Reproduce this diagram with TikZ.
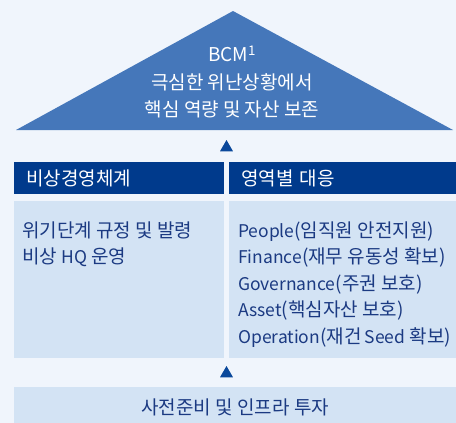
\documentclass[tikz,border=0pt]{standalone}
\usepackage{fontspec}
\setmainfont{Noto Sans CJK KR}
\newfontfamily\latinfont[Scale=0.92]{Noto Sans CJK KR}
\usetikzlibrary{shapes.geometric, positioning, calc}

\definecolor{pagebg}{RGB}{240,245,252}
\definecolor{peakblue}{RGB}{69,119,186}
\definecolor{navy}{RGB}{0,58,140}
\definecolor{paleblue}{RGB}{211,227,244}
\definecolor{inkblue}{RGB}{27,58,130}
\definecolor{markblue}{RGB}{10,72,155}

\newcommand{\lat}[1]{{\latinfont #1}}

\begin{document}
\begin{tikzpicture}[x=1pt, y=-1pt,
    % --- STYLES ---
    base/.style={inner sep=0pt, font=\fontsize{19}{26.5}\selectfont},
    peak/.style={inner sep=0pt, font=\fontsize{19}{27.5}\selectfont, text=white, align=center},
    header/.style={base, fill=navy, text=white, minimum height=32pt, anchor=north west, align=left, inner xsep=12pt},
    panel/.style={base, fill=paleblue, anchor=north west},
    panel text/.style={base, text=inkblue, align=left},
    marker/.style={regular polygon, regular polygon sides=3, fill=markblue, minimum size=15pt, inner sep=0pt}
]

    \useasboundingbox (0,0) rectangle (456,423);
    \fill[pagebg] (0,0) rectangle (456,423);

    % --- TOP: BCM ---
    \fill[peakblue] (233,11) -- (453,130) -- (16,130) -- cycle;
    \node[peak] (bcm) at (232,82) {BCM\textsuperscript{1}\\극심한 위난상황에서\\핵심 역량 및 자산 보존};

    \node[marker] (up1) at (226.5,147.5) {};

    % --- MIDDLE: two columns ---
    \node[header, text width=186pt] (hleft) at (14,162) {비상경영체계};
    \node[header, text width=203pt] (hright) at (229,162) {영역별 대응};

    \node[panel, minimum width=210pt, minimum height=157pt, below=6pt of hleft.south west, anchor=north west] (pleft) {};
    \node[panel, minimum width=227pt, minimum height=157pt, below=6pt of hright.south west, anchor=north west] (pright) {};

    \node[panel text, below right=21pt and 8pt of pleft.north west] (tleft) {위기단계 규정 및 발령\\비상 \lat{HQ} 운영};
    \node[panel text, below right=21pt and 9pt of pright.north west] (tright) {\lat{People}(임직원 안전지원)\\\lat{Finance}(재무 유동성 확보)\\\lat{Governance}(주권 보호)\\\lat{Asset}(핵심자산 보호)\\\lat{Operation}(재건\,\lat{Seed} 확보)};

    \node[marker] (up2) at (226.5,373.5) {};

    % --- BOTTOM: base ---
    \node[panel, minimum width=442pt, minimum height=40pt, text=inkblue] (bottom) at (14,387) {사전준비 및 인프라 투자};

\end{tikzpicture}
\end{document}
